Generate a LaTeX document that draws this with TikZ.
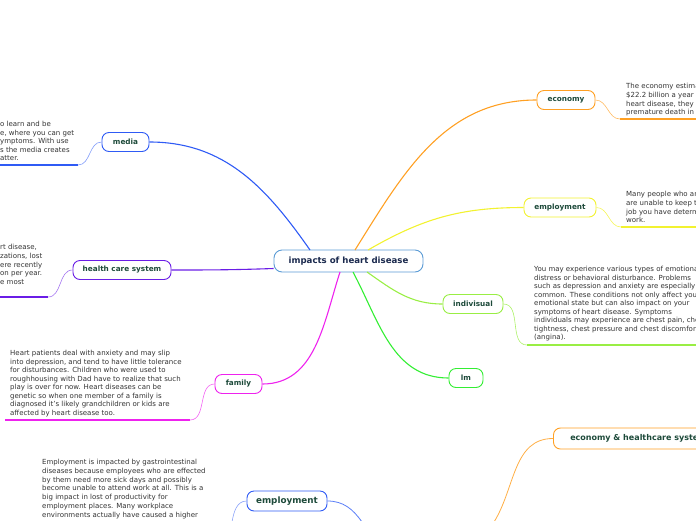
\documentclass[tikz,border=0pt]{standalone}
\usepackage{fontspec}
\setmainfont{DejaVu Sans}
\definecolor{hubline}{HTML}{5B9BD5}
\definecolor{hubtext}{HTML}{1B2A4E}
\definecolor{lbltext}{HTML}{1D4A3A}
\definecolor{bodytext}{HTML}{333333}
\definecolor{cblue}{HTML}{2F5BF5}
\definecolor{corange}{HTML}{FFA023}
\definecolor{cyellow}{HTML}{F2F230}
\definecolor{cpurple}{HTML}{6A1DE6}
\definecolor{cmagenta}{HTML}{EE22EE}
\definecolor{clime}{HTML}{99EE44}
\definecolor{cgreen}{HTML}{33EE33}

\begin{document}
\begin{tikzpicture}[x=1pt,y=-1pt,
  hub/.style={draw=hubline,line width=0.9pt,fill=white,rounded corners=8pt,
    minimum width=149pt,minimum height=22pt,text=hubtext,
    font=\bfseries\fontsize{8.6}{10}\selectfont},
  topic/.style={draw,line width=0.9pt,fill=white,rounded corners=7pt,
    minimum height=19pt,inner sep=0pt,text=lbltext,
    font=\bfseries\fontsize{7.3}{8}\selectfont},
  note/.style={anchor=north west,align=left,inner sep=0pt,text=bodytext,
    font=\fontsize{7}{8.5}\selectfont},
  branch/.style={line width=1.1pt},
  twig/.style={line width=0.6pt},
  uline/.style={line width=1.2pt}]

\clip (0,0) rectangle (696,520);
\useasboundingbox (0,0) rectangle (696,520);

% centre
\node[hub] (ctr) at (348.5,261) {impacts of heart disease};
\coordinate (ctrMedia) at (310,250);
\coordinate (ctrEco) at (355,250);
\coordinate (ctrEmp) at (368,250);
\coordinate (ctrFam) at (340,272);
\coordinate (ctrLm) at (353,272);
\coordinate (ctrInd) at (367,272);

% topics
\node[topic,draw=corange,minimum width=58pt] (eco) at (566,100) {economy};
\node[topic,draw=cyellow,minimum width=72pt] (emp) at (560,207.5) {employment};
\node[topic,draw=clime,minimum width=60pt] (ind) at (473,304) {indivisual};
\node[topic,draw=cgreen,minimum width=34pt] (lm) at (466,378) {lm};
\node[topic,draw=cmagenta,minimum width=47pt] (fam) at (238.5,384) {family};
\node[topic,draw=cpurple,minimum width=98pt] (hcs) at (122,270) {health care system};
\node[topic,draw=cblue,minimum width=47pt] (media) at (125.5,142) {media};

% branches
\draw[branch,cblue] (media.east) to[out=0,in=125] (ctrMedia);
\draw[branch,corange] (ctrEco) to[out=58,in=180] (eco.west);
\draw[branch,cyellow] (ctrEmp) to[out=30,in=180] (emp.west);
\draw[branch,cpurple] (hcs.east) to[out=0,in=182] (ctr.west |- 0,268.5);
\draw[branch,cmagenta] (ctrFam) to[out=-108,in=0] (fam.east);
\draw[branch,clime] (ctrInd) to[out=-35,in=180] (ind.west);
\draw[branch,cgreen] (ctrLm) to[out=-62,in=180] (lm.west);

% economy text
\node[note,font=\fontsize{7}{8.8}\selectfont] (ecoTxt) at (626,83) {The economy estima\\\$22.2 billion a year\\heart disease, they\\premature death in};
\coordinate (ecoL) at (620,119);
\coordinate (ecoR) at (696,119);
\draw[twig,corange!70] (eco.east) to[out=0,in=180] (ecoL);
\draw[uline,corange] (ecoL) -- (ecoR);

% employment text
\node[note,font=\fontsize{7}{8.8}\selectfont] (empTxt) at (626,191) {Many people who ar\\are unable to keep t\\job you have determ\\work.};
\coordinate (empL) at (621,227);
\coordinate (empR) at (696,227);
\draw[twig,cyellow!80] (emp.east) to[out=0,in=180] (empL);
\draw[uline,cyellow] (empL) -- (empR);

% indivisual text
\node[note] (indTxt) at (534,266) {You may experience various types of emotional\\distress or behavioral disturbance. Problems\\such as depression and anxiety are especially\\common. These conditions not only affect your\\emotional state but can also impact on your\\symptoms of heart disease. Symptoms\\individuals may experience are chest pain, chest\\tightness, chest pressure and chest discomfort\\(angina).};
\coordinate (indL) at (527,345);
\coordinate (indR) at (696,345);
\draw[twig,clime!80] (ind.east) to[out=0,in=180] (indL);
\draw[uline,clime] (indL) -- (indR);

% family text
\node[note] (famTxt) at (10,350) {Heart patients deal with anxiety and may slip\\into depression, and tend to have little tolerance\\for disturbances. Children who were used to\\roughhousing with Dad have to realize that such\\play is over for now. Heart diseases can be\\genetic so when one member of a family is\\diagnosed it's likely grandchildren or kids are\\affected by heart disease too.};
\coordinate (famL) at (5,420);
\coordinate (famR) at (190,420);
\draw[twig,cmagenta!70] (fam.west) to[out=180,in=0] (famR);
\draw[uline,cmagenta] (famR) -- (famL);

% health care system text
\node[note,font=\fontsize{7}{8.8}\selectfont] (hcsTxt) at (0,244) {rt disease,\\zations, lost\\ere recently\\on per year.\\e most};
\coordinate (hcsL) at (0,297);
\coordinate (hcsR) at (48,297);
\draw[twig,cpurple!60] (hcs.west) to[out=180,in=0] (hcsR);
\draw[uline,cpurple] (hcsR) -- (hcsL);

% media text
\node[note,font=\fontsize{7}{8.6}\selectfont] (mediaTxt) at (0,121) {o learn and be\\e, where you can get\\ymptoms. With use\\s the media creates\\atter.};
\coordinate (mediaL) at (0,165);
\coordinate (mediaR) at (78,165);
\draw[twig,cblue!60] (media.west) to[out=180,in=0] (mediaR);
\draw[uline,cblue] (mediaR) -- (mediaL);

% second map (lower part)
\node[topic,draw=corange,minimum width=170pt,minimum height=21pt,
  font=\bfseries\fontsize{8}{9.5}\selectfont,anchor=west] (ehs) at (553,438.5)
  {economy \& healthcare system};
\coordinate (ehsIn) at (494,522);
\draw[twig,line width=0.8pt,corange!85] (ehsIn) to[out=58,in=180] (ehs.west);

\node[topic,draw=cblue,minimum width=80pt,minimum height=20pt,
  font=\bfseries\fontsize{8.8}{10}\selectfont] (emp2) at (287,501) {employment};
\coordinate (emp2In) at (362,522);
\coordinate (emp2Out) at (232,522);
\draw[twig,line width=0.8pt,cblue!80] (emp2.east) to[out=0,in=125] (emp2In);
\draw[twig,cblue!55] (emp2.west) to[out=180,in=80] (emp2Out);

\node[note,font=\fontsize{7}{8.8}\selectfont] (emp2Txt) at (42,459) {Employment is impacted by gastrointestinal\\diseases because employees who are effected\\by them need more sick days and possibly\\become unable to attend work at all. This is a\\big impact in lost of productivity for\\employment places. Many workplace\\environments actually have caused a higher};
\end{tikzpicture}
\end{document}
